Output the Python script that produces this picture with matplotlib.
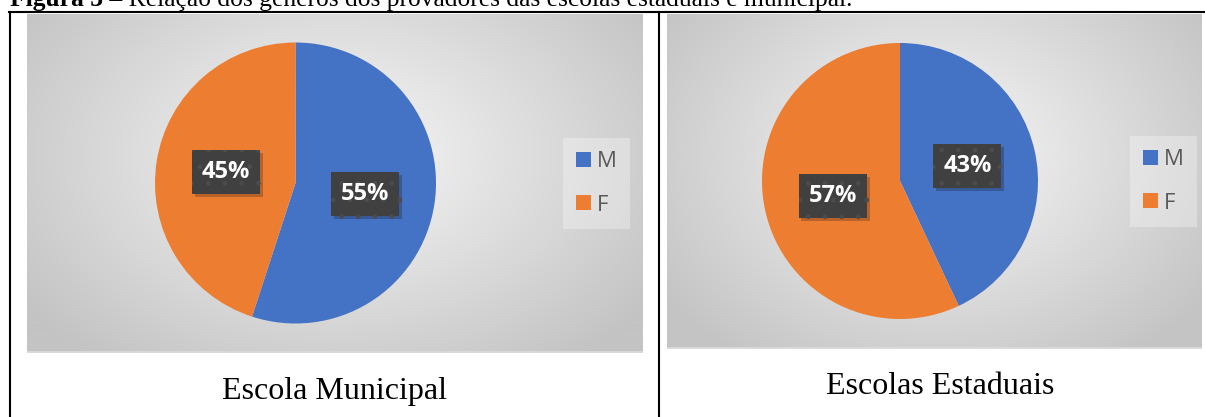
import numpy as np
import matplotlib
matplotlib.use('Agg')
import matplotlib.pyplot as plt
import matplotlib.patheffects as pe
from matplotlib.colors import to_rgb

# Gender split of the tasters in each school network
genders = ['M', 'F']
municipal = [55, 45]
estaduais = [43, 57]
panel_titles = ['Escola Municipal', 'Escolas Estaduais']
figure_title = 'Figura 3'
figure_caption = ' – Relação dos gêneros dos provadores das escolas estaduais e municipal.'
colors = ['#4472C4', '#ED7D31']

W, H = 1205, 417
fig = plt.figure(figsize=(W / 100, H / 100), dpi=100)


def rect(x0, y0, x1, y1):
    # pixel box (top-left origin) -> figure fraction
    return [x0 / W, 1 - y1 / H, (x1 - x0) / W, (y1 - y0) / H]


def gradient(w, h):
    yy, xx = np.mgrid[0:h, 0:w]
    d = np.sqrt(((xx - w * 0.5) / (w * 0.62)) ** 2 + ((yy - h * 0.42) / (h * 0.75)) ** 2)
    t = np.clip(d, 0, 1)[..., None]
    inner = np.array(to_rgb('#f8f8f8'))
    outer = np.array(to_rgb('#c4c4c4'))
    return inner * (1 - t) + outer * t


panels = [
    dict(values=municipal, title=panel_titles[0], chart=(27, 14, 643, 353),
         center=(295.5, 183), radius=140.5, legend=(563, 138), caption=(334, 392)),
    dict(values=estaduais, title=panel_titles[1], chart=(667, 14, 1202, 349),
         center=(900, 181), radius=138, legend=(1130, 136), caption=(940, 387)),
]

for p in panels:
    x0, y0, x1, y1 = p['chart']
    bg = fig.add_axes(rect(x0, y0, x1, y1))
    bg.imshow(gradient(x1 - x0, y1 - y0), extent=(0, 1, 0, 1), aspect='auto')
    bg.axhline(0.003, color='#dadada', lw=2)
    bg.set_axis_off()

    cx, cy = p['center']
    r = p['radius']
    ax = fig.add_axes(rect(cx - r, cy - r, cx + r, cy + r))
    wedges, _, autotexts = ax.pie(
        p['values'], colors=colors, startangle=90, counterclock=False,
        autopct='%1.0f%%', pctdistance=0.5, labels=genders, labeldistance=None,
        wedgeprops=dict(linewidth=0),
        textprops=dict(color='white', fontsize=17, fontweight='bold', family='Open Sans'))
    ax.set_xlim(-1, 1)
    ax.set_ylim(-1, 1)
    for t in autotexts:
        t.set_bbox(dict(boxstyle='square,pad=0.42', fc='#404040', ec='#4c4c4c', lw=0, hatch='.'))
        t.get_bbox_patch().set_path_effects(
            [pe.SimplePatchShadow(offset=(2, -2), alpha=0.25), pe.Normal()])

    lx, ly = p['legend']
    leg = ax.legend(wedges, genders, loc='upper left',
                    bbox_to_anchor=(lx / W, 1 - ly / H), bbox_transform=fig.transFigure,
                    borderaxespad=0, fancybox=False, frameon=True, framealpha=0.3,
                    facecolor='white', edgecolor='none', handlelength=0.64, handleheight=0.64,
                    handletextpad=0.27, labelspacing=1.0, borderpad=0.6,
                    prop=dict(family='Open Sans', size=16))
    for txt in leg.get_texts():
        txt.set_color('#595959')

    fig.text(p['caption'][0] / W, 1 - p['caption'][1] / H, p['title'],
             family='Liberation Serif', fontsize=23, ha='center', va='center')

# table rules
line_ax = fig.add_axes([0, 0, 1, 1], facecolor='none')
line_ax.set_xlim(0, W)
line_ax.set_ylim(H, 0)
line_ax.set_axis_off()
line_ax.plot([9, W], [12, 12], color='black', lw=1.5)
line_ax.plot([10, 10], [12, H], color='black', lw=1.5)
line_ax.plot([659, 659], [12, H], color='black', lw=1.5)

# figure caption, partly above the top edge
t1 = fig.text(10 / W, 1 - 6 / H, figure_title, family='Liberation Serif',
              fontsize=18.4, fontweight='bold', va='baseline')
fig.canvas.draw()
bb = t1.get_window_extent()
fig.text(bb.x1 / W, 1 - 6 / H, figure_caption, family='Liberation Serif',
         fontsize=18.4, va='baseline')

fig.savefig('out.png', dpi=100)
